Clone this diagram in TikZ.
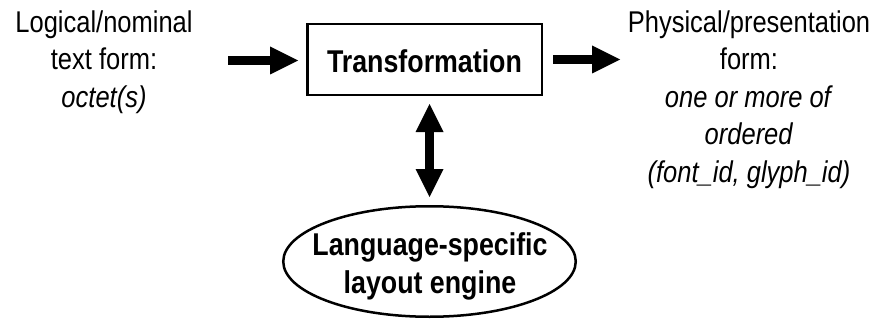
\documentclass[tikz,border=0pt]{standalone}
\usepackage{fontspec}
\setmainfont{Liberation Sans}[FakeStretch=0.85]
\usetikzlibrary{arrows.meta,shapes.geometric}

\tikzset{
  plain/.style={font=\fontsize{30}{37.5}\selectfont, align=center, inner sep=0pt},
  heavy/.style={font=\bfseries\fontsize{31.5}{38}\selectfont, align=center, inner sep=0pt},
  frame/.style={draw, line width=2.5pt},
  bigtip/.tip={Triangle[length=28pt, width=28pt, line width=0pt 0]},
  blockarrow/.style={line width=9pt, -bigtip},
}

\begin{document}
\begin{tikzpicture}[x=1pt, y=-1pt]
  \useasboundingbox (0,0) rectangle (878,321);

  % central processing box
  \node[frame, heavy, minimum width=234.5pt, minimum height=70.5pt,
        text height=27pt, text depth=0pt] (box) at (424.5,59.5) {Transformation};

  % layout engine
  \node[frame, ellipse, minimum width=292.5pt, minimum height=110.5pt,
        inner sep=0pt] (eng) at (429.5,261.5) {};
  \node[heavy, anchor=north] (engtext) at (430,232) {Language-specific\\layout engine};

  % input and output descriptions
  \node[plain, anchor=north] (src) at (104,10.5)
    {Logical/nominal\\text form:\\\textit{octet(s)}};
  \node[plain, anchor=north] (dst) at (749,10.5)
    {Physical/presentation\\form:\\\textit{one or more of}\\\textit{ordered}\\\textit{(font\_id, glyph\_id)}};

  % block arrows
  \coordinate (inL) at (228,60.5);
  \coordinate (outR) at (620,59.5);
  \draw[blockarrow, shorten >=8pt] (inL) -- (inL -| box.west);
  \draw[blockarrow, shorten <=10pt] (box.east) -- (outR);
  \draw[blockarrow, bigtip-bigtip, shorten <=8pt, shorten >=8pt]
    (box.south -| eng.north) -- (eng.north);
\end{tikzpicture}
\end{document}
